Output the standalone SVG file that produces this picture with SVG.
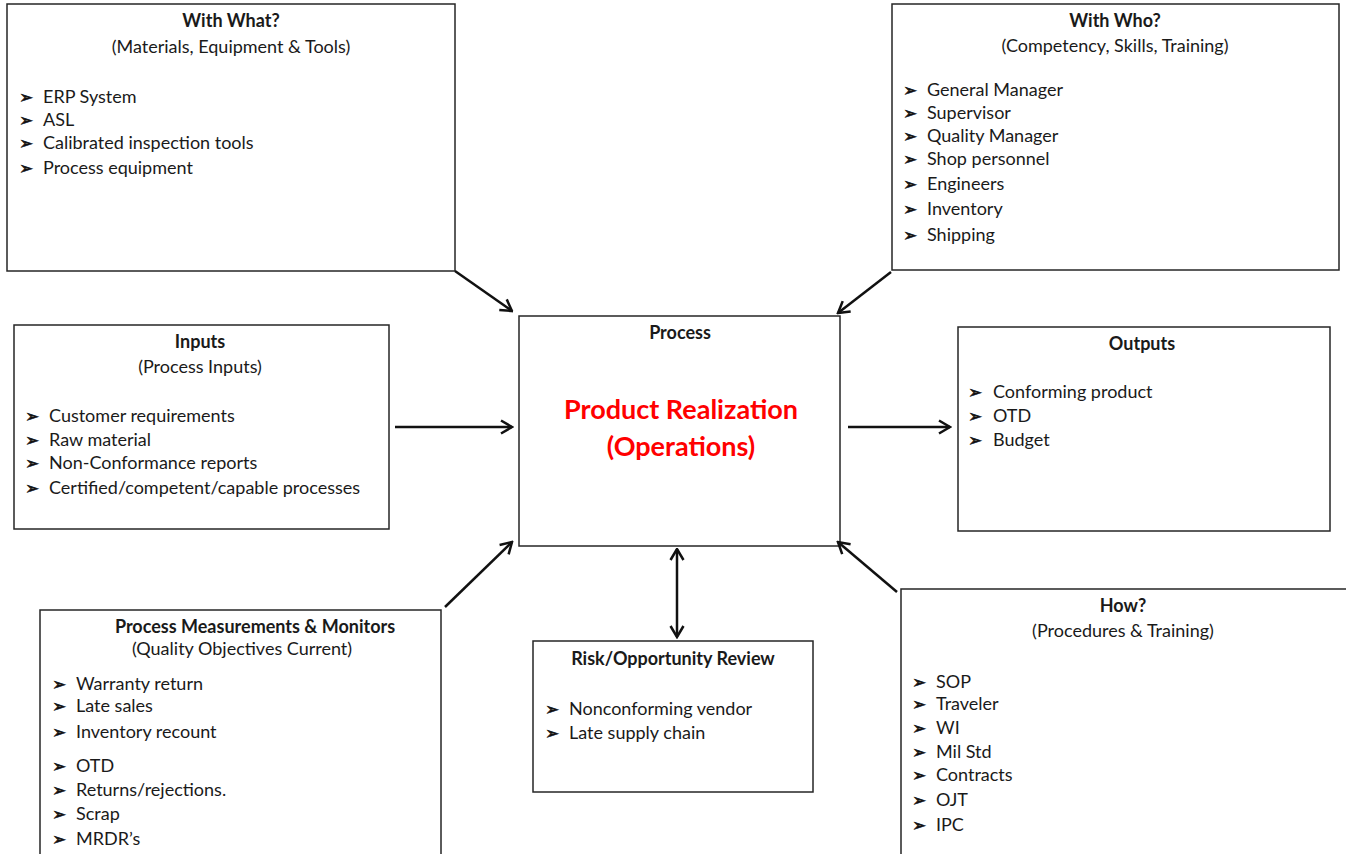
<svg xmlns="http://www.w3.org/2000/svg" width="1346" height="854" viewBox="0 0 1346 854">
  <style>
    .box { fill: #ffffff; stroke: #262626; stroke-width: 1.5; }
    text { font-family: Lato, "Open Sans", "Liberation Sans", sans-serif; font-size: 18px; fill: #1a1a1a; }
    .title { font-weight: 700; text-anchor: middle; }
    .sub { text-anchor: middle; }
    .bul { font-family: "DejaVu Sans", sans-serif; font-size: 17px; fill: #111111; stroke: #111111; stroke-width: 0.5; }
    .big { font-weight: 700; font-size: 27px; fill: #ff0000; text-anchor: middle; }
    .conn { stroke: #111111; stroke-width: 2.5; fill: none; }
  </style>
  <defs>
    <marker id="chev" viewBox="0 0 14 16" refX="12.5" refY="8" markerWidth="14" markerHeight="16" markerUnits="userSpaceOnUse" orient="auto-start-reverse">
      <path d="M1.5,1.5 L12.5,8 L1.5,14.5" fill="none" stroke="#111111" stroke-width="2.5" stroke-linejoin="miter"/>
    </marker>
  </defs>
  <rect width="1346" height="854" fill="#ffffff"/>

  <g id="with-what">
    <rect class="box" x="7" y="4" width="448" height="267"/>
    <text class="title" x="231" y="27">With What?</text>
    <text class="sub" x="231" y="53">(Materials, Equipment &amp; Tools)</text>
    <text class="bul" x="19" y="103">➢</text><text x="43" y="103">ERP System</text>
    <text class="bul" x="19" y="126">➢</text><text x="43" y="126">ASL</text>
    <text class="bul" x="19" y="149">➢</text><text x="43" y="149">Calibrated inspection tools</text>
    <text class="bul" x="19" y="174">➢</text><text x="43" y="174">Process equipment</text>
  </g>

  <g id="with-who">
    <rect class="box" x="892" y="4" width="447" height="266"/>
    <text class="title" x="1115" y="27">With Who?</text>
    <text class="sub" x="1115" y="52">(Competency, Skills, Training)</text>
    <text class="bul" x="903" y="96">➢</text><text x="927" y="96">General Manager</text>
    <text class="bul" x="903" y="119">➢</text><text x="927" y="119">Supervisor</text>
    <text class="bul" x="903" y="142">➢</text><text x="927" y="142">Quality Manager</text>
    <text class="bul" x="903" y="165">➢</text><text x="927" y="165">Shop personnel</text>
    <text class="bul" x="903" y="190">➢</text><text x="927" y="190">Engineers</text>
    <text class="bul" x="903" y="215">➢</text><text x="927" y="215">Inventory</text>
    <text class="bul" x="903" y="241">➢</text><text x="927" y="241">Shipping</text>
  </g>

  <g id="inputs">
    <rect class="box" x="14" y="325" width="375" height="204"/>
    <text class="title" x="200" y="348">Inputs</text>
    <text class="sub" x="200" y="373">(Process Inputs)</text>
    <text class="bul" x="25" y="422">➢</text><text x="49" y="422">Customer requirements</text>
    <text class="bul" x="25" y="446">➢</text><text x="49" y="446">Raw material</text>
    <text class="bul" x="25" y="469">➢</text><text x="49" y="469">Non-Conformance reports</text>
    <text class="bul" x="25" y="494">➢</text><text x="49" y="494">Certified/competent/capable processes</text>
  </g>

  <g id="process">
    <rect class="box" x="519" y="316" width="321" height="230"/>
    <text class="title" x="680" y="339">Process</text>
    <text class="big" x="681" y="419">Product Realization</text>
    <text class="big" x="681" y="456">(Operations)</text>
  </g>

  <g id="outputs">
    <rect class="box" x="958" y="327" width="372" height="204"/>
    <text class="title" x="1142" y="350">Outputs</text>
    <text class="bul" x="968" y="398">➢</text><text x="993" y="398">Conforming product</text>
    <text class="bul" x="968" y="422">➢</text><text x="993" y="422">OTD</text>
    <text class="bul" x="968" y="446">➢</text><text x="993" y="446">Budget</text>
  </g>

  <g id="measurements">
    <rect class="box" x="40" y="610" width="401" height="260"/>
    <text class="title" x="255" y="633">Process Measurements &amp; Monitors</text>
    <text class="sub" x="242" y="655">(Quality Objectives Current)</text>
    <text class="bul" x="52" y="690">➢</text><text x="76" y="690">Warranty return</text>
    <text class="bul" x="52" y="712">➢</text><text x="76" y="712">Late sales</text>
    <text class="bul" x="52" y="738">➢</text><text x="76" y="738">Inventory recount</text>
    <text class="bul" x="52" y="772">➢</text><text x="76" y="772">OTD</text>
    <text class="bul" x="52" y="796">➢</text><text x="76" y="796">Returns/rejections.</text>
    <text class="bul" x="52" y="820">➢</text><text x="76" y="820">Scrap</text>
    <text class="bul" x="52" y="845">➢</text><text x="76" y="845">MRDR’s</text>
  </g>

  <g id="risk-review">
    <rect class="box" x="533" y="641" width="280" height="151"/>
    <text class="title" x="673" y="665">Risk/Opportunity Review</text>
    <text class="bul" x="545" y="715">➢</text><text x="569" y="715">Nonconforming vendor</text>
    <text class="bul" x="545" y="739">➢</text><text x="569" y="739">Late supply chain</text>
  </g>

  <g id="how">
    <rect class="box" x="901" y="589" width="460" height="280"/>
    <text class="title" x="1123" y="612">How?</text>
    <text class="sub" x="1123" y="637">(Procedures &amp; Training)</text>
    <text class="bul" x="912" y="688">➢</text><text x="936" y="688">SOP</text>
    <text class="bul" x="912" y="710">➢</text><text x="936" y="710">Traveler</text>
    <text class="bul" x="912" y="734">➢</text><text x="936" y="734">WI</text>
    <text class="bul" x="912" y="758">➢</text><text x="936" y="758">Mil Std</text>
    <text class="bul" x="912" y="781">➢</text><text x="936" y="781">Contracts</text>
    <text class="bul" x="912" y="806">➢</text><text x="936" y="806">OJT</text>
    <text class="bul" x="912" y="831">➢</text><text x="936" y="831">IPC</text>
  </g>

  <g id="connectors">
    <line class="conn" x1="455" y1="271" x2="512" y2="311" marker-end="url(#chev)"/>
    <line class="conn" x1="891" y1="272" x2="838" y2="313" marker-end="url(#chev)"/>
    <line class="conn" x1="395" y1="427" x2="512" y2="427" marker-end="url(#chev)"/>
    <line class="conn" x1="848" y1="427" x2="950" y2="427" marker-end="url(#chev)"/>
    <line class="conn" x1="445" y1="607" x2="512" y2="542" marker-end="url(#chev)"/>
    <line class="conn" x1="897" y1="592" x2="838" y2="542" marker-end="url(#chev)"/>
    <line class="conn" x1="677" y1="549" x2="677" y2="637" marker-start="url(#chev)" marker-end="url(#chev)"/>
  </g>
</svg>
